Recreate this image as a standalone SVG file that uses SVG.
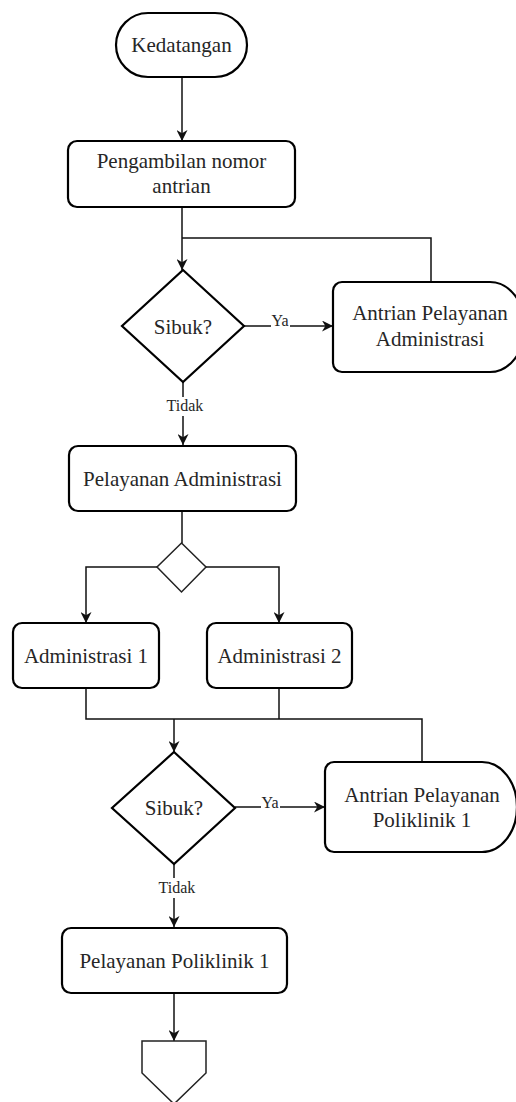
<svg xmlns="http://www.w3.org/2000/svg" width="516" height="1102" viewBox="0 0 516 1102">
  <style>
    .node { fill: #ffffff; stroke: #000000; stroke-width: 2.2; }
    .thin { fill: #ffffff; stroke: #222222; stroke-width: 1.5; }
    .lbl { font-family: "Liberation Serif", "Times New Roman", serif; font-size: 21px; fill: #262626; text-anchor: middle; }
    .edge-lbl { font-family: "Liberation Serif", "Times New Roman", serif; font-size: 16px; fill: #262626; text-anchor: middle; }
    .edge { fill: none; stroke: #111111; stroke-width: 1.5; }
    .bg { fill: #ffffff; }
  </style>
  <defs>
    <marker id="arrow" viewBox="0 0 10 10" refX="10" refY="5" markerWidth="12" markerHeight="11" markerUnits="userSpaceOnUse" orient="auto">
      <path d="M0,0 L10,5 L0,10 L3,5 Z" fill="#111111"/>
    </marker>
  </defs>

  <rect width="516" height="1102" fill="#ffffff"/>

  <!-- connectors -->
  <g id="connectors">
    <path class="edge" d="M182,77 V141" marker-end="url(#arrow)"/>
    <path class="edge" d="M182,207 V270" marker-end="url(#arrow)"/>
    <path class="edge" d="M431,282 V238 H182"/>
    <path class="edge" d="M244,326 H333" marker-end="url(#arrow)"/>
    <path class="edge" d="M183,382 V445" marker-end="url(#arrow)"/>
    <path class="edge" d="M182,511 V543"/>
    <path class="edge" d="M157,567 H86 V623" marker-end="url(#arrow)"/>
    <path class="edge" d="M206,567 H279 V623" marker-end="url(#arrow)"/>
    <path class="edge" d="M86,688 V719 H422 V762"/>
    <path class="edge" d="M279,688 V719"/>
    <path class="edge" d="M174,719 V752" marker-end="url(#arrow)"/>
    <path class="edge" d="M235,807 H325" marker-end="url(#arrow)"/>
    <path class="edge" d="M174,864 V927" marker-end="url(#arrow)"/>
    <path class="edge" d="M174,993 V1041" marker-end="url(#arrow)"/>

    <!-- edge labels -->
    <rect class="bg" x="271" y="313" width="19" height="16"/>
    <text class="edge-lbl" x="280" y="326">Ya</text>
    <rect class="bg" x="164" y="397" width="42" height="19"/>
    <text class="edge-lbl" x="185" y="411">Tidak</text>
    <rect class="bg" x="261" y="794" width="19" height="16"/>
    <text class="edge-lbl" x="270" y="808">Ya</text>
    <rect class="bg" x="156" y="878" width="42" height="20"/>
    <text class="edge-lbl" x="177" y="893">Tidak</text>
  </g>

  <g id="kedatangan">
    <rect class="node" x="116" y="13" width="131" height="64" rx="32" ry="32"/>
    <text class="lbl" x="181.5" y="52">Kedatangan</text>
  </g>

  <g id="pengambilan-nomor">
    <rect class="node" x="68" y="141" width="227" height="66" rx="9" ry="9"/>
    <text class="lbl" x="181.5" y="168">Pengambilan nomor</text>
    <text class="lbl" x="181.5" y="193">antrian</text>
  </g>

  <g id="sibuk-1">
    <path class="node" d="M183,270 L244,326 L183,382 L122,326 Z"/>
    <text class="lbl" x="183" y="334">Sibuk?</text>
  </g>

  <g id="antrian-administrasi">
    <path class="node" d="M342,282 H490 A35,45 0 0 1 490,372 H342 A9,9 0 0 1 333,363 V291 A9,9 0 0 1 342,282 Z"/>
    <text class="lbl" x="430" y="320">Antrian Pelayanan</text>
    <text class="lbl" x="430" y="346">Administrasi</text>
  </g>

  <g id="pelayanan-administrasi">
    <rect class="node" x="69" y="446" width="227" height="65" rx="9" ry="9"/>
    <text class="lbl" x="182.5" y="486">Pelayanan Administrasi</text>
  </g>

  <g id="percabangan">
    <path class="thin" d="M181.5,543 L206,567 L181.5,592 L157,567 Z"/>
  </g>

  <g id="administrasi-1">
    <rect class="node" x="13" y="623" width="146" height="65" rx="9" ry="9"/>
    <text class="lbl" x="86" y="663">Administrasi 1</text>
  </g>

  <g id="administrasi-2">
    <rect class="node" x="207" y="623" width="145" height="65" rx="9" ry="9"/>
    <text class="lbl" x="279.5" y="663">Administrasi 2</text>
  </g>

  <g id="sibuk-2">
    <path class="node" d="M174,752 L235,808 L174,864 L112,808 Z"/>
    <text class="lbl" x="174" y="815">Sibuk?</text>
  </g>

  <g id="antrian-poliklinik">
    <path class="node" d="M334,762 H482 A35,45 0 0 1 482,852 H334 A9,9 0 0 1 325,843 V771 A9,9 0 0 1 334,762 Z"/>
    <text class="lbl" x="422" y="802">Antrian Pelayanan</text>
    <text class="lbl" x="422" y="827">Poliklinik 1</text>
  </g>

  <g id="pelayanan-poliklinik">
    <rect class="node" x="62" y="928" width="225" height="65" rx="9" ry="9"/>
    <text class="lbl" x="174.5" y="968">Pelayanan Poliklinik 1</text>
  </g>

  <g id="penghubung-halaman">
    <path class="thin" d="M142,1041 H206 V1073 L174,1104 L142,1073 Z"/>
  </g>
</svg>
